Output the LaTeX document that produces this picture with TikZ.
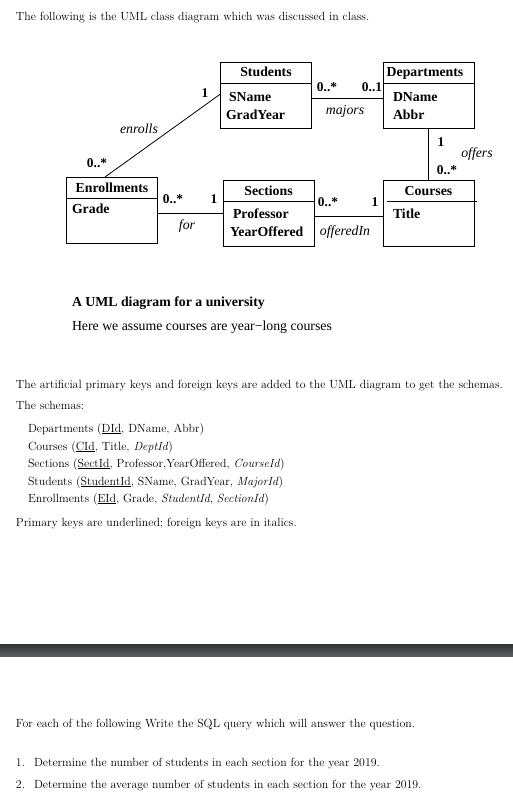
\documentclass[tikz,border=0pt]{standalone}
\usepackage{fontspec}
\newfontfamily\umlfont{Liberation Serif}
\usepackage{tikz}
\usetikzlibrary{positioning}
\definecolor{bardark}{HTML}{303336}
\definecolor{barlight}{HTML}{5C5F62}

\begin{document}
\begin{tikzpicture}[x=1pt, y=-1pt,
    every node/.style={inner sep=0pt, outer sep=0pt},
    page/.style={anchor=base west, font=\fontsize{11.85}{13}\selectfont},
    classbox/.style={draw, line width=0.9pt, minimum width=91pt, minimum height=66pt},
    cname/.style={anchor=base, font=\umlfont\bfseries\fontsize{13.8}{15}\selectfont},
    attr/.style={anchor=base west, font=\umlfont\bfseries\fontsize{13.8}{15}\selectfont},
    mult/.style={font=\umlfont\bfseries\fontsize{13.4}{15}\selectfont},
    role/.style={anchor=base, font=\umlfont\itshape\fontsize{13.8}{15}\selectfont},
    link/.style={line width=0.8pt}]
    \useasboundingbox (0,0) rectangle (513,799);

    \node[page] (intro) at (16,21) {The following is the UML class diagram which was discussed in class.};

    % the classes
    \node[classbox] (stu)  at (266,95)    {};
    \node[classbox] (dept) at (428.5,95)  {};
    \node[classbox] (enr)  at (111.5,210) {};
    \node[classbox] (sect) at (268.5,213) {};
    \node[classbox] (crs)  at (428.5,213) {};

    \draw[line width=0.9pt] (stu.west |- 0,83)  -- (stu.east |- 0,83);
    \draw[line width=0.9pt] (dept.west |- 0,83) -- (dept.east |- 0,83);
    \draw[line width=0.9pt] (enr.west |- 0,198) -- (enr.east |- 0,198);
    \draw[line width=0.9pt] (sect.west |- 0,201) -- (sect.east |- 0,201);
    \draw[line width=0.9pt] ([xshift=4]crs.west |- 0,201) -- ([xshift=3]crs.east |- 0,201);

    \node[cname] (stuN)  at (266,77)    {Students};
    \node[cname] (deptN) at (425,77)    {Departments};
    \node[cname] (enrN)  at (112,193)   {Enrollments};
    \node[cname] (sectN) at (268.5,196) {Sections};
    \node[cname] (crsN)  at (428.5,196) {Courses};

    \node[attr] (sname)  at (229,101.5) {SName};
    \node[attr] (gyear)  at (226,120)   {GradYear};
    \node[attr] (dname)  at (393,101.5) {DName};
    \node[attr] (abbr)   at (393,120)   {Abbr};
    \node[attr] (grade)  at (72,214)    {Grade};
    \node[attr] (prof)   at (233,219)   {Professor};
    \node[attr] (yoff)   at (230,237)   {YearOffered};
    \node[attr] (title)  at (393,219)   {Title};

    % associations
    \draw[link] ([xshift=-6.5]enr.north) -- (stu.west |- 0,94);
    \draw[link] (stu.east |- 0,98) -- (dept.west |- 0,98);
    \draw[link] (dept.south) -- (crs.north);
    \draw[link] (enr.east |- 0,213) -- (sect.west |- 0,213);
    \draw[link] (sect.east |- 0,216) -- (crs.west |- 0,216);

    \node[mult] (m1) at (205,93)  {1};
    \node[mult] (m2) at (97,163)  {0..*};
    \node[role] (r1) at (139,134) {enrolls};
    \node[mult] (m3) at (327,87)  {0..*};
    \node[mult] (m4) at (372,87)  {0..1};
    \node[role] (r2) at (345,115) {majors};
    \node[mult] (m5) at (441,142) {1};
    \node[role] (r3) at (477,158) {offers};
    \node[mult] (m6) at (447,170) {0..*};
    \node[mult] (m7) at (173,199) {0..*};
    \node[mult] (m8) at (214,199) {1};
    \node[role] (r4) at (187,230) {for};
    \node[mult] (m9) at (328,202) {0..*};
    \node[mult] (m10) at (375,202) {1};
    \node[role] (r5) at (345,236) {offeredIn};

    \node[attr] (cap) at (72,306.7) {A UML diagram for a university};
    \node[attr, font=\umlfont\fontsize{13.8}{15}\selectfont] (note) at (72,330.7) {Here we assume courses are year−long courses};

    % schemas
    \node[page] (art) at (16,388) {The artificial primary keys and foreign keys are added to the UML diagram to get the schemas.};
    \node[page] (sch) at (16,409) {The schemas:};
    \node[page] (s1) at (28,432) {Departments (\underline{DId}, DName, Abbr)};
    \node[page] (s2) at (28,450) {Courses (\underline{CId}, Title, \textit{DeptId})};
    \node[page] (s3) at (28,467) {Sections (\underline{SectId}, Professor,YearOffered, \textit{CourseId})};
    \node[page] (s4) at (28,485) {Students (\underline{StudentId}, SName, GradYear, \textit{MajorId})};
    \node[page] (s5) at (28,502) {Enrollments (\underline{EId}, Grade, \textit{StudentId}, \textit{SectionId})};
    \node[page] (keys) at (16,526) {Primary keys are underlined; foreign keys are in italics.};

    \shade[top color=bardark, bottom color=barlight] (0,644) rectangle (513,656);

    % questions
    \node[page] (ask) at (16,727) {For each of the following Write the SQL query which will answer the question.};
    \node[page] (q1n) at (16,766) {1.};
    \node[page] (q1) at (34,766) {Determine the number of students in each section for the year 2019.};
    \node[page] (q2n) at (16,788) {2.};
    \node[page] (q2) at (34,788) {Determine the average number of students in each section for the year 2019.};
\end{tikzpicture}
\end{document}
